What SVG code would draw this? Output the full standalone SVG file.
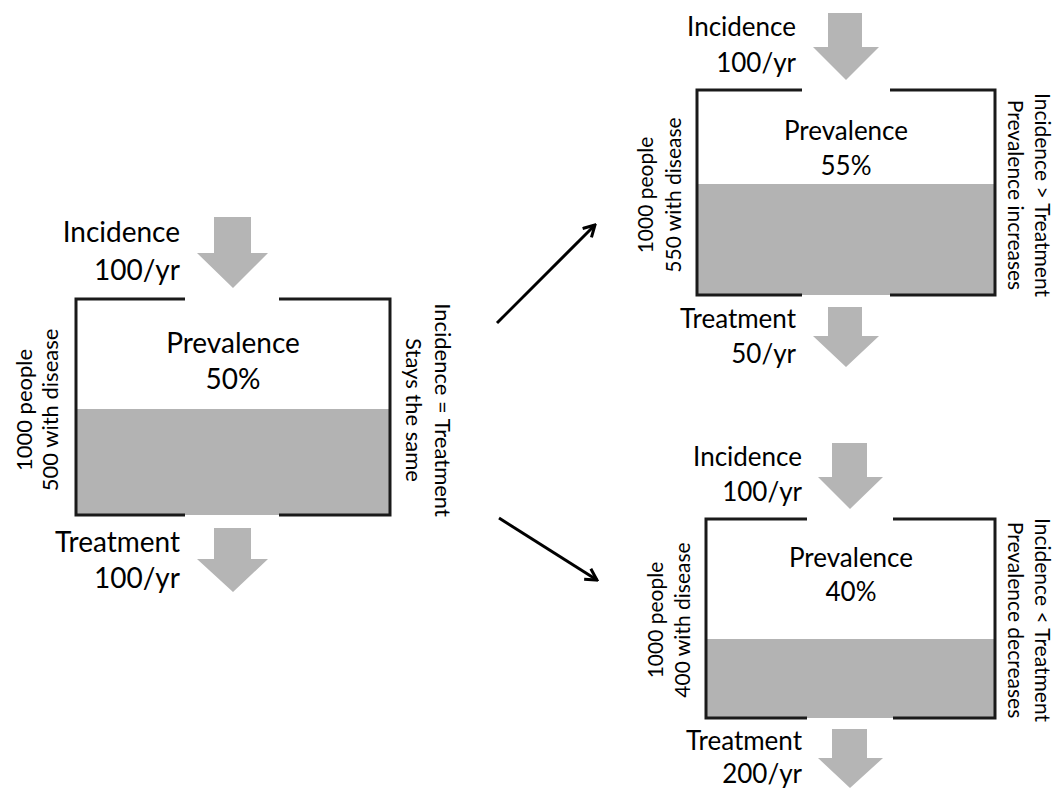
<svg xmlns="http://www.w3.org/2000/svg" width="1054" height="790" viewBox="0 0 1054 790">
<style>
  .bg { fill: #ffffff; }
  .level { fill: #b3b3b3; }
  .wall { fill: none; stroke: #1a1a1a; stroke-width: 3; }
  .flow { fill: #b5b5b5; }
  .t { font-family: Lato, "Liberation Sans", sans-serif; fill: #000; }
  .big { font-size: 28px; }
  .mid { font-size: 26px; }
  .side { font-size: 22px; }
  .sideS { font-size: 21px; }
  .c { text-anchor: middle; }
  .e { text-anchor: end; }
  .conn { stroke: #000; stroke-width: 3; fill: none; }
</style>
<defs>
  <marker id="open" viewBox="0 0 12 12" refX="10.5" refY="6" markerWidth="15" markerHeight="15" markerUnits="userSpaceOnUse" orient="auto">
    <path d="M1.5,1 L10.5,6 L1.5,11" fill="none" stroke="#000" stroke-width="2.4"/>
  </marker>
</defs>
<rect class="bg" x="0" y="0" width="1054" height="790"/>

<g id="box-equal">
  <rect class="level" x="76" y="409" width="314" height="106"/>
  <path class="wall" d="M185,299 H76 V515 H185 M279,515 H390 V299 H279"/>
  <polygon class="flow" points="214,217 251,217 251,253 268,253 233,288 197,253 214,253"/>
  <polygon class="flow" points="214,528 251,528 251,559 268,559 233,592 197,559 214,559"/>
  <text class="t big e" x="180" y="242">Incidence</text>
  <text class="t big e" x="180" y="280">100/yr</text>
  <text class="t big c" x="233" y="353">Prevalence</text>
  <text class="t big c" x="233" y="389">50%</text>
  <text class="t big e" x="180" y="552">Treatment</text>
  <text class="t big e" x="180" y="588">100/yr</text>
  <g transform="translate(32,410) rotate(-90)">
    <text class="t side c" x="0" y="0">1000 people</text>
    <text class="t side c" x="0" y="26">500 with disease</text>
  </g>
  <g transform="translate(435,410) rotate(90)">
    <text class="t side c" x="0" y="0">Incidence = Treatment</text>
    <text class="t side c" x="0" y="29">Stays the same</text>
  </g>
</g>

<g id="box-increase">
  <rect class="level" x="697" y="184" width="298" height="111"/>
  <path class="wall" d="M802,90 H697 V295 H802 M890,295 H995 V90 H890"/>
  <polygon class="flow" points="828,13 862,13 862,47 879,47 846,80 813,47 828,47"/>
  <polygon class="flow" points="828,307 862,307 862,336 879,336 846,367 813,336 828,336"/>
  <text class="t mid e" x="796" y="36">Incidence</text>
  <text class="t mid e" x="796" y="72">100/yr</text>
  <text class="t mid c" x="846" y="140">Prevalence</text>
  <text class="t mid c" x="846" y="175">55%</text>
  <text class="t mid e" x="796" y="328">Treatment</text>
  <text class="t mid e" x="796" y="363">50/yr</text>
  <g transform="translate(653,195) rotate(-90)">
    <text class="t sideS c" x="0" y="0">1000 people</text>
    <text class="t sideS c" x="0" y="28">550 with disease</text>
  </g>
  <g transform="translate(1035,195) rotate(90)">
    <text class="t sideS c" x="0" y="0">Incidence &gt; Treatment</text>
    <text class="t sideS c" x="0" y="27">Prevalence increases</text>
  </g>
</g>

<g id="box-decrease">
  <rect class="level" x="706" y="639" width="289" height="79"/>
  <path class="wall" d="M807,519 H706 V718 H807 M893,718 H995 V519 H893"/>
  <polygon class="flow" points="832,443 867,443 867,477 883,477 850,509 818,477 832,477"/>
  <polygon class="flow" points="832,729 867,729 867,758 883,758 850,788 818,758 832,758"/>
  <text class="t mid e" x="802" y="466">Incidence</text>
  <text class="t mid e" x="802" y="501">100/yr</text>
  <text class="t mid c" x="851" y="567">Prevalence</text>
  <text class="t mid c" x="851" y="601">40%</text>
  <text class="t mid e" x="802" y="750">Treatment</text>
  <text class="t mid e" x="802" y="783">200/yr</text>
  <g transform="translate(663,620) rotate(-90)">
    <text class="t sideS c" x="0" y="0">1000 people</text>
    <text class="t sideS c" x="0" y="27">400 with disease</text>
  </g>
  <g transform="translate(1035,620) rotate(90)">
    <text class="t sideS c" x="0" y="0">Incidence &lt; Treatment</text>
    <text class="t sideS c" x="0" y="27">Prevalence decreases</text>
  </g>
</g>

<g id="connectors">
  <line class="conn" x1="497" y1="323" x2="595" y2="225" marker-end="url(#open)"/>
  <line class="conn" x1="499" y1="518" x2="597" y2="580" marker-end="url(#open)"/>
</g>
</svg>
